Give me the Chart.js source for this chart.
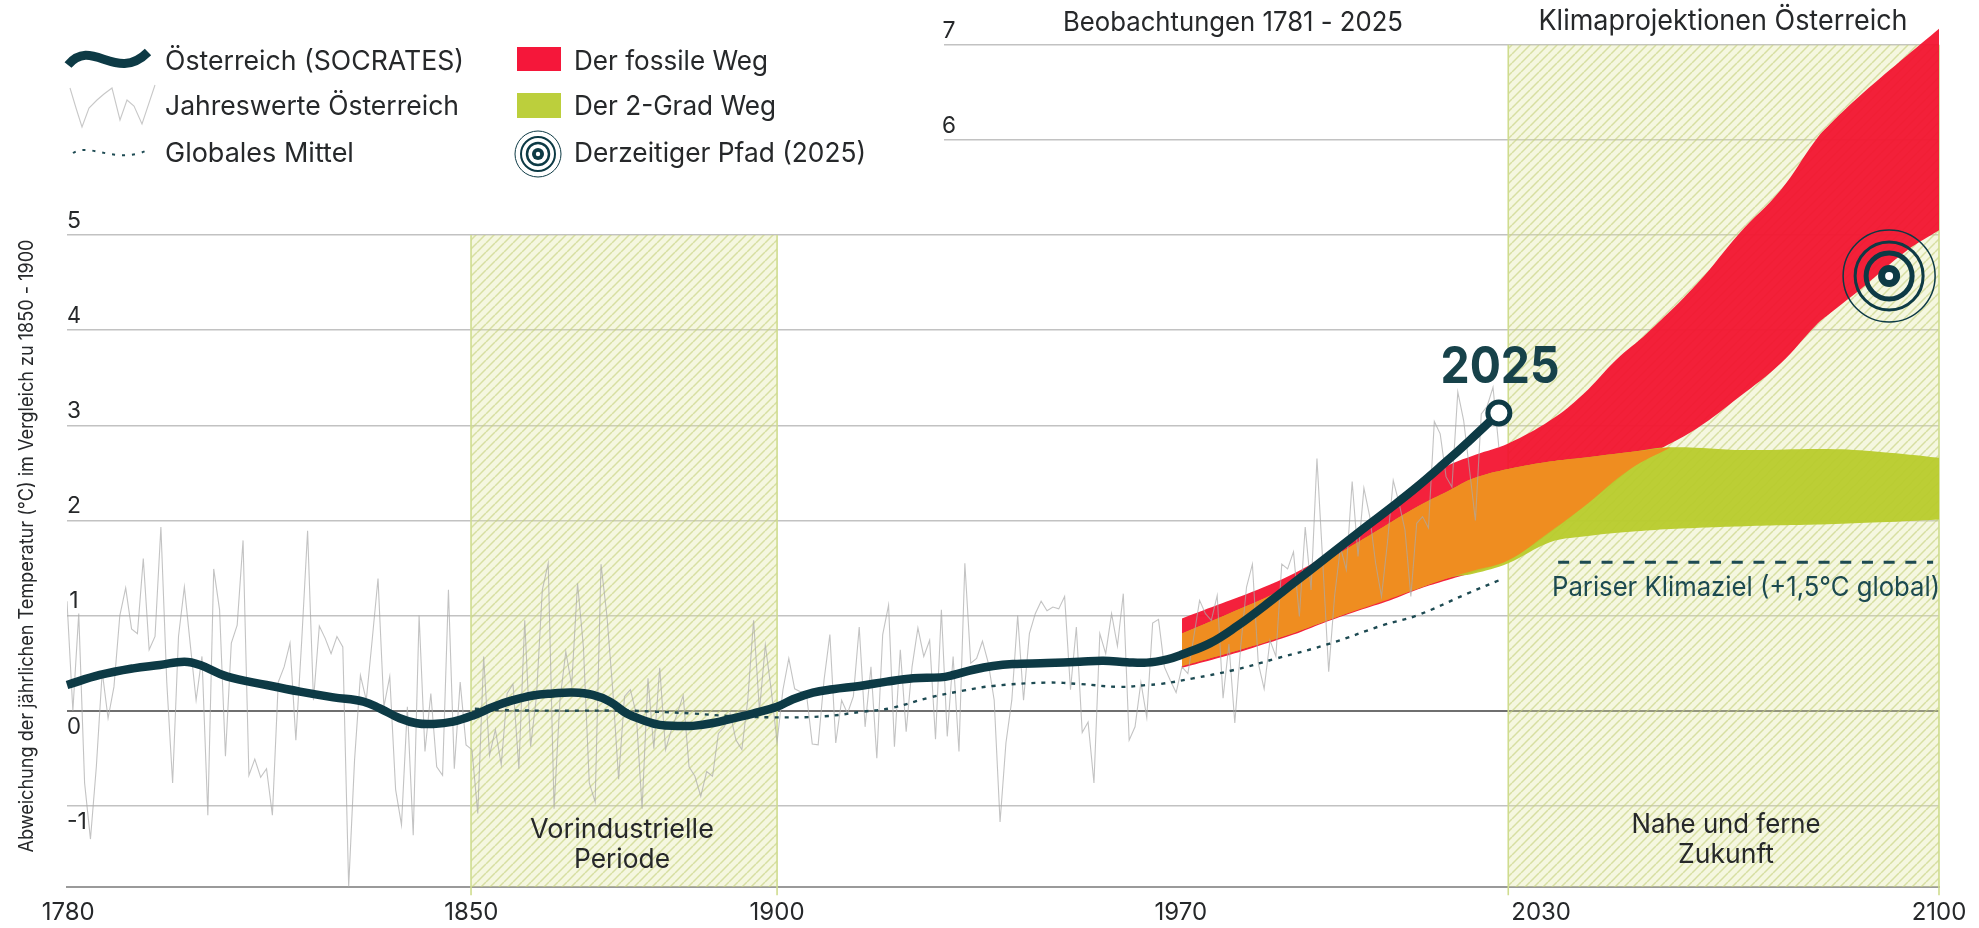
<!DOCTYPE html>
<html lang="de"><head><meta charset="utf-8"><title>Temperaturabweichung Österreich</title>
<style>html,body{margin:0;padding:0;background:#fff}canvas{display:block}</style>
<script src="https://cdn.jsdelivr.net/npm/chart.js@4"></script></head>
<body><canvas id="c" width="1979" height="928"></canvas>
<script>
const FONT='Inter, "Noto Sans", sans-serif';
const xTickLabels=['1780','1850','1900','1970','2030','2100'];
const xTickPositions=[1781.2,1849.9,1902,1970.8,2032.2,2100];
const yTickValues=[-1,0,1,2,3,4,5,6,7];
const yTickLabels=['-1','0','1','2','3','4','5','6','7'];

const annualStart=1781;
const annualValues=[
1.15,0.0,1.02,-.76,-1.35,-.59,.41,-.08,.25,1.0,
1.29,.86,.81,1.6,.64,.78,1.93,.3,-.76,.78,
1.3,.7,.11,.57,-1.1,1.49,1.06,-.48,.71,.9,
1.79,-.68,-.51,-.7,-.61,-1.1,.3,.46,.71,-.31,
.74,1.89,.11,.89,.76,.6,.78,.67,-1.85,-.52,
.37,.11,.74,1.39,.04,.36,-.83,-1.2,.04,-1.31,
1.0,-.43,.18,-.59,-.68,1.27,-.61,.3,-.36,-.41,
-1.08,.57,-.47,-.2,-.57,.18,.28,-.61,.95,-.38,
.15,1.27,1.55,-1.03,.11,.62,.27,1.34,.67,-.76,
-.96,1.54,1.0,.22,-.72,.15,.22,-.03,-1.03,.34,
-.4,.45,-.41,-.2,-.03,.16,-.59,-.69,-.9,-.64,
-.69,-.24,-.17,-.03,-.31,-.41,.11,.95,0.0,.69,
.22,-.33,.22,.55,.23,.2,.18,-.35,-.36,.32,
.8,-.34,.11,-.03,.15,.88,-.17,.46,-.5,.8,
1.11,-.38,.64,-.22,.46,.87,.57,.74,
-.3,1.06,-.27,.57,-.43,1.55,.5,.55,.73,.5,
.11,-1.17,-.34,.11,1.0,.11,.81,1.02,1.15,1.05,
1.09,1.07,1.2,.22,.88,-.23,-.12,-.76,.81,.6,
1.02,.68,1.23,-.31,-.17,.3,-.07,.92,.96,.46,
.32,.19,
.46,.39,.77,1.16,1.02,.95,1.21,.13,.7,-.13,
.67,1.3,1.54,.5,.23,.74,.57,1.54,1.49,1.67,
.99,1.93,1.27,2.65,1.55,.41,1.2,1.72,1.48,2.41,
1.62,2.34,2.04,1.55,1.2,1.76,2.42,2.18,1.9,1.2,
1.97,2.04,1.92,3.04,2.91,2.46,2.35,3.35,3.05,2.53,
2.0,3.12,3.2,3.4,2.77];

const socratesYears=[1781,1786.6,1792.3,1796.8,1801,1803.7,1808.2,1815,1820.7,1826.4,1831.5,1834.3,1837.7,1840.6,1843.4,1846.8,1850.2,1853.6,1857,1860.4,1863.8,1867.2,1870.6,1873.5,1876.4,1879.2,1882,1885,1887.7,1891.1,1894.5,1897.9,1902,1904.7,1908.1,1911.5,1916.1,1920.7,1925.2,1929.8,1932,1935.4,1938.8,1942.2,1948,1953.6,1957.6,1961.6,1965,1968.5,1971,1975.8,1980.4,1985,1990,1995,2001,2006.5,2011,2015.5,2020,2025];
const socratesValues=[.27,.375,.445,.48,.515,.48,.36,.27,.2,.14,.095,.025,-.08,-.133,-.14,-.115,-.05,.04,.11,.16,.18,.19,.165,.095,-.03,-.1,-.15,-.16,-.16,-.13,-.08,-.03,.04,.12,.19,.225,.26,.305,.34,.35,.375,.43,.47,.49,.5,.515,.525,.51,.505,.54,.59,.71,.89,1.1,1.34,1.58,1.87,2.13,2.35,2.59,2.84,3.13];

const globalYears=[1850.5,1855.3,1865,1876.4,1880.9,1887.7,1893.5,1901.3,1909.9,1916.7,1921.3,1928.1,1933.7,1938.8,1948,1953.6,1960.4,1965,1967.3,1972.9,1979.7,1987.2,1996.2,2005.3,2011,2019.6,2025];
const globalValues=[.02,.005,0,0,-.01,-.03,-.055,-.07,-.06,-.01,.025,.14,.21,.26,.295,.28,.25,.27,.28,.34,.425,.55,.705,.9,1.0,1.23,1.37];

const fossilYears=[1971,1977,1983,1990,1995,2001,2006.5,2011,2015.5,2021,2026.6,2033.7,2039.4,2045,2050.3,2058.8,2066,2073,2079,2081.5,2087,2094.6,2100];
const fossilUpper=[.97,1.11,1.25,1.44,1.62,1.9,2.13,2.35,2.55,2.69,2.81,3.05,3.33,3.69,3.97,4.49,5.02,5.47,6.0,6.17,6.49,6.89,7.17];
const fossilLower=[.45,.55,.66,.8,.92,1.05,1.16,1.27,1.36,1.46,1.58,1.87,2.14,2.42,2.67,2.97,3.3,3.65,4.05,4.18,4.45,4.84,5.05];

const twoDegYears=[1971,1979.7,1988.2,1996.7,2005.3,2011,2016.7,2020.6,2026.6,2033.7,2039.4,2047.4,2054.3,2066.9,2081,2090,2100];
const twoDegUpper=[.81,1.04,1.28,1.61,1.93,2.14,2.32,2.44,2.54,2.62,2.66,2.72,2.77,2.74,2.75,2.72,2.66];
const twoDegLower=[.47,.62,.78,.97,1.16,1.28,1.4,1.44,1.55,1.77,1.83,1.88,1.91,1.94,1.96,1.98,2.01];

const overlapYears=[1971,1979.7,1988.2,1996.7,2005.3,2011,2016.7,2020.6,2026.6,2033.7,2039.4,2047.4,2054.3];
const overlapUpper=[.81,1.04,1.28,1.61,1.93,2.14,2.32,2.44,2.54,2.62,2.66,2.72,2.77];
const overlapLower=[.47,.62,.78,.97,1.15,1.28,1.4,1.47,1.58,1.88,2.14,2.54,2.77];

const parisYears=[2035.1,2099];
const parisValues=[1.56,1.56];
const targetYear=[2091.5];
const targetValue=[4.57];

const bands=[{from:1849.85,to:1902,top:5},{from:2026.6,to:2100,top:7}];

const NAVY='#0d3a45',RED='rgba(243,16,45,0.93)',GREEN='rgba(185,204,46,0.96)',ORANGE='rgba(241,138,32,0.95)';
const Y_MIN=-1.857,Y_MAX=7.2;

function pts(xs,ys){return xs.map((x,i)=>({x,y:ys[i]}));}
function hatch(){
  const s=9,c=document.createElement('canvas');c.width=s;c.height=s;
  const g=c.getContext('2d');
  g.fillStyle='rgba(226,232,161,0.33)';g.fillRect(0,0,s,s);
  g.strokeStyle='rgba(197,209,125,0.62)';g.lineWidth=1.5;
  g.beginPath();
  for(const o of[-s,0,s]){g.moveTo(o,s);g.lineTo(o+s,0);}
  g.stroke();
  return g.createPattern(c,'repeat');
}
const pattern=hatch();
const area=(label,xs,up,lo,color,order)=>[
 {label,data:pts(xs,up),borderWidth:0,pointRadius:0,fill:{target:'+1'},backgroundColor:color,tension:0.4,order,clip:false},
 {label:label+' (unten)',data:pts(xs,lo),borderWidth:0,pointRadius:0,fill:false,tension:0.4,order}
];
const ring=(label,r,w,bg,order)=>({label,data:pts(targetYear,targetValue),showLine:false,pointRadius:r,pointBorderWidth:w,pointBorderColor:NAVY,pointBackgroundColor:bg,order,clip:false});

const datasets=[];
bands.forEach((b,i)=>{
  datasets.push({label:'Zeitraum '+i,data:[{x:b.from,y:b.top},{x:b.to,y:b.top}],borderWidth:0,pointRadius:0,fill:'start',backgroundColor:pattern,order:20});
  for(const e of[b.from,b.to]) datasets.push({label:'Rand '+i,data:[{x:e,y:-1.94},{x:e,y:b.top}],borderColor:'#cfdc8e',borderWidth:1.6,pointRadius:0,fill:false,order:19,clip:false});
});
datasets.push(...area('Der fossile Weg',fossilYears,fossilUpper,fossilLower,RED,15));
datasets.push(...area('Der 2-Grad Weg',twoDegYears,twoDegUpper,twoDegLower,GREEN,14));
datasets.push(...area('Überlappung',overlapYears,overlapUpper,overlapLower,ORANGE,13));
datasets.push({label:'Jahreswerte Österreich',data:annualValues.map((v,i)=>({x:annualStart+i,y:v})),borderColor:'rgba(170,170,170,0.7)',borderWidth:1.1,pointRadius:0,fill:false,order:10});
datasets.push({label:'Globales Mittel',data:pts(globalYears,globalValues),borderColor:'#1d4a52',borderWidth:2.4,borderDash:[4,6],pointRadius:0,fill:false,tension:0.4,order:9});
datasets.push({label:'Pariser Klimaziel',data:pts(parisYears,parisValues),borderColor:'#1d4a52',borderWidth:3,borderDash:[11,10.7],pointRadius:0,fill:false,order:8});
datasets.push({label:'Österreich (SOCRATES)',data:pts(socratesYears,socratesValues),borderColor:NAVY,borderWidth:8.5,tension:0.4,fill:false,order:5,
  pointRadius:c=>c.dataIndex===socratesYears.length-1?11:0,pointBorderWidth:5,pointBorderColor:NAVY,pointBackgroundColor:'#fff',clip:false});
datasets.push(ring('Pfad Ring 1',46,1.5,'transparent',4));
datasets.push(ring('Pfad Ring 2',34,3,'transparent',4));
datasets.push(ring('Pfad Ring 3',23,5,'transparent',4));
datasets.push(ring('Derzeitiger Pfad (2025)',7.5,7,'#fff',3));

function txt(g,s,x,y,o){
  o=o||{};
  g.save();
  g.font=(o.weight||400)+' '+(o.size||24)+'px '+FONT;
  g.fillStyle=o.color||'#26282a';
  g.textAlign=o.align||'left';g.textBaseline='middle';
  if(o.rotate){g.translate(x,y);g.rotate(o.rotate);x=0;y=0;}
  o.width?g.fillText(s,x,y,o.width):g.fillText(s,x,y);
  g.restore();
}
const overlay={
 id:'overlay',
 beforeDatasetsDraw(chart){
  const g=chart.ctx;
  g.save();g.fillStyle='#fff';g.fillRect(0,25,944,135);g.restore();
 },
 afterDraw(chart){
  const g=chart.ctx,y=chart.scales.y;
  yTickValues.forEach((v,i)=>{
    const py=y.getPixelForValue(v),below=v<=0;
    const px=v>=6?949:(v===-1?77:74);
    txt(g,yTickLabels[i],px,py+(below?16:-14),{size:23,align:'center',width:v===-1?24:14});
  });
  txt(g,'Abweichung der jährlichen Temperatur (°C) im Vergleich zu 1850 - 1900',27,546,{size:20,align:'center',rotate:-Math.PI/2,width:613});
  txt(g,'Beobachtungen 1781 - 2025',1233,23,{size:27,align:'center',width:340});
  txt(g,'Klimaprojektionen Österreich',1723,22,{size:28,align:'center',width:369});
  txt(g,'2025',1500,368,{size:51,weight:700,align:'center',color:'#17424a',width:119});
  txt(g,'Vorindustrielle',622,830,{size:27,align:'center',width:186});
  txt(g,'Periode',622,860,{size:27,align:'center',width:96});
  txt(g,'Nahe und ferne',1726,825,{size:27,align:'center',width:189});
  txt(g,'Zukunft',1726,855,{size:27,align:'center',width:96});
  txt(g,'Pariser Klimaziel (+1,5°C global)',1746,588,{size:27,align:'center',color:'#1c4a50',width:388});
  // legend
  g.save();
  g.lineCap='butt';
  g.strokeStyle=NAVY;g.lineWidth=9;g.beginPath();g.moveTo(68,65);g.bezierCurveTo(92,36,116,84,148,52);g.stroke();
  g.strokeStyle='#c8c8c8';g.lineWidth=1.1;g.beginPath();
  [[70,88],[76,108],[82,127],[89,108],[97,100],[104,94],[112,88],[120,120],[127,100],[134,106],[142,124],[155,85]].forEach((p,i)=>i?g.lineTo(p[0],p[1]):g.moveTo(p[0],p[1]));g.stroke();
  g.strokeStyle='#1d4a52';g.lineWidth=2;g.setLineDash([3,7]);g.beginPath();g.moveTo(73,153);g.bezierCurveTo(90,142,115,165,148,150);g.stroke();g.setLineDash([]);
  g.fillStyle='#f5173a';g.fillRect(517,47,44,24);
  g.fillStyle='#bccf3c';g.fillRect(517,93,44,25);
  g.strokeStyle=NAVY;
  for(const[r,w]of[[23,1],[17,2],[11,2.5]]){g.lineWidth=w;g.beginPath();g.arc(538,154,r,0,7);g.stroke();}
  g.fillStyle=NAVY;g.beginPath();g.arc(538,154,6,0,7);g.fill();
  g.fillStyle='#fff';g.beginPath();g.arc(538,154,2.2,0,7);g.fill();
  g.restore();
  txt(g,'Österreich (SOCRATES)',165,62,{width:299,size:27});
  txt(g,'Jahreswerte Österreich',165,107,{width:294,size:27});
  txt(g,'Globales Mittel',165,154,{width:192,size:27});
  txt(g,'Der fossile Weg',574,62,{width:194,size:27});
  txt(g,'Der 2-Grad Weg',574,107,{width:202,size:27});
  txt(g,'Derzeitiger Pfad (2025)',574,154,{width:292,size:27});
 }
};
new Chart(document.getElementById('c'),{
 type:'line',
 data:{datasets},
 plugins:[overlay],
 options:{
  responsive:false,animation:false,parsing:true,
  layout:{autoPadding:false,padding:{left:67,right:40,top:25.8,bottom:0}},
  plugins:{legend:{display:false},tooltip:{enabled:false},title:{display:false}},
  scales:{
   x:{type:'linear',min:1781,max:2100,
      afterFit:s=>{s.height=40.7;},
      afterBuildTicks:s=>{s.ticks=xTickPositions.map(v=>({value:v}));},
      grid:{display:false,drawTicks:false},
      border:{display:true,color:'#9a9a9a',width:2},
      ticks:{autoSkip:false,maxRotation:0,minRotation:0,padding:11,color:'#26282a',font:{family:FONT,size:24},
        callback:v=>{const i=xTickPositions.indexOf(v);return i>=0?xTickLabels[i]:'';}}},
   y:{type:'linear',min:Y_MIN,max:Y_MAX,
      afterFit:s=>{s.width=0;},
      afterBuildTicks:s=>{s.ticks=yTickValues.map(v=>({value:v}));},
      border:{display:false},
      grid:{drawTicks:false,color:c=>c.tick&&c.tick.value===0?'#6f6f6f':'#c2c2c2',lineWidth:c=>c.tick&&c.tick.value===0?2:1.4},
      ticks:{display:false}}
  }
 }
});
</script></body></html>
